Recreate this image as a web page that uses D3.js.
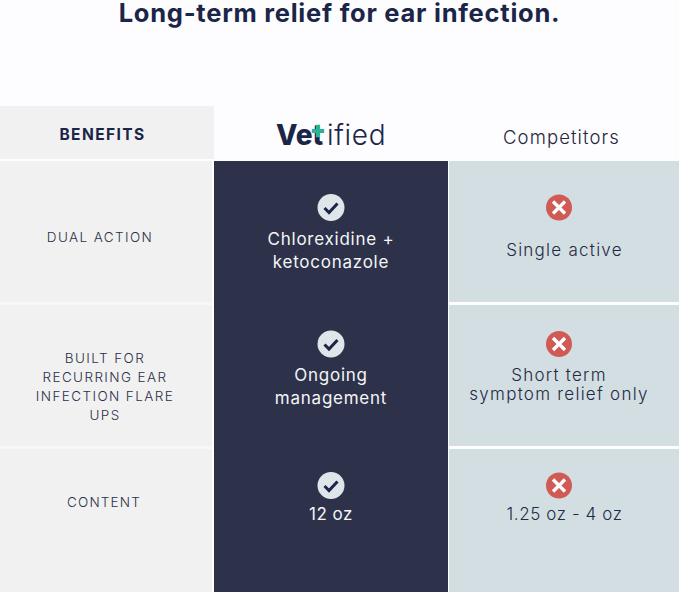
<!DOCTYPE html>
<html>
<head>
<meta charset="utf-8">
<script src="https://cdn.jsdelivr.net/npm/d3@7"></script>
<style>
  html, body { margin: 0; padding: 0; background: #fdfcfe; overflow: hidden; }
  text { font-family: Inter, "Open Sans", sans-serif; }
</style>
</head>
<body>
<svg id="chart"></svg>
<script>
var title = "Long-term relief for ear infection.";
var columns = ["BENEFITS", "Vetified", "Competitors"];
var rows = ["dual", "recurring", "content"];
var benefits = [["DUAL ACTION"], ["BUILT FOR", "RECURRING EAR", "INFECTION FLARE", "UPS"], ["CONTENT"]];
var vetified = [["Chlorexidine +", "ketoconazole"], ["Ongoing", "management"], ["12 oz"]];
var competitors = [["Single active"], ["Short term", "symptom relief only"], ["1.25 oz - 4 oz"]];

var width = 679;
var height = 592;
var navy = "#2d324a";
var ink = "#1b2548";

var svg = d3.select("#chart").attr("width", width).attr("height", height).style("display", "block");

var y = d3.scaleBand().domain(rows).range([161, 590]).paddingInner(0.021).paddingOuter(0);
var colX = { left: 0, mid: 214, right: 448, end: 679 };

var rowHeight = function(d)
{
  return d == "content" ? height - y(d) : y.bandwidth();
};

svg.append("rect").attr("width", width).attr("height", height).attr("fill", "#fdfcfe");

svg.append("text").text(title)
   .attr("x", 339.5).attr("y", 22)
   .attr("text-anchor", "middle")
   .attr("font-size", "25.5px")
   .attr("font-weight", 700)
   .attr("letter-spacing", "0.75px")
   .attr("fill", ink);

// header row
svg.append("rect").attr("x", 0).attr("y", 106).attr("width", colX.mid).attr("height", 53).attr("fill", "#f1f1f1");
svg.append("text").text(columns[0])
   .attr("x", 102.5).attr("y", 140)
   .attr("text-anchor", "middle")
   .attr("font-size", "15.5px").attr("font-weight", 700)
   .attr("letter-spacing", "1.4px")
   .attr("fill", ink);

svg.append("text").text(columns[1].slice(0, 3))
   .attr("x", 276).attr("y", 145)
   .attr("font-size", "28px").attr("font-weight", 800)
   .attr("fill", ink);
svg.append("text").text(columns[1].slice(3))
   .attr("x", 327).attr("y", 145)
   .attr("font-size", "28px").attr("font-weight", 300)
   .attr("letter-spacing", "0.7px")
   .attr("fill", ink);
svg.append("path")
   .attr("d", d3.symbol(d3.symbolCross, 85)())
   .attr("transform", "translate(318,131)")
   .attr("fill", "#2bb39a");

svg.append("text").text(columns[2])
   .attr("x", 561.5).attr("y", 144)
   .attr("text-anchor", "middle")
   .attr("font-size", "18.5px").attr("font-weight", 300)
   .attr("letter-spacing", "1.1px")
   .attr("fill", "#23263a");

// column backgrounds and cells
svg.selectAll(".cell-left").data(rows).enter().append("rect")
   .attr("x", 0).attr("y", function(d) { return y(d); })
   .attr("width", colX.mid - 2).attr("height", rowHeight)
   .attr("fill", "#f1f1f1");

// the gaps in the left column are only faintly lighter than the cells
svg.append("rect").attr("x", 0).attr("y", y("recurring") - 3)
   .attr("width", colX.mid - 2).attr("height", 3).attr("fill", "#f7f7f7");
svg.append("rect").attr("x", 0).attr("y", y("content") - 3)
   .attr("width", colX.mid - 2).attr("height", 3).attr("fill", "#f7f7f7");

svg.selectAll(".cell-right").data(rows).enter().append("rect")
   .attr("x", colX.right + 1).attr("y", function(d) { return y(d); })
   .attr("width", colX.end - colX.right - 1).attr("height", rowHeight)
   .attr("fill", "#d3dee3");

svg.append("rect").attr("x", colX.mid).attr("y", 161)
   .attr("width", colX.right - colX.mid).attr("height", height - 161)
   .attr("fill", navy);

// text blocks: first baseline, line step and tracking per row
var leftLayout = [{ x: 100, y: 242, step: 19, track: "1.4px" }, { x: 105, y: 363, step: 19, track: "1.4px" }, { x: 104, y: 507, step: 19, track: "1.2px" }];
var midLayout = [{ x: 331, y: 245, step: 23, track: "0.75px" }, { x: 331, y: 381, step: 23, track: "0.75px" }, { x: 331, y: 520, step: 23, track: "0.5px" }];
var rightLayout = [{ x: 564.5, y: 256, step: 19, track: "1.25px" }, { x: 559, y: 381, step: 19, track: "1.25px" }, { x: 564.5, y: 520, step: 19, track: "0.6px" }];

var drawLines = function(lines, layout, size, weight, color)
{
  lines.forEach(function(block, i)
  {
    svg.append("g").selectAll("text")
       .data(block)
       .enter()
       .append("text")
       .text(function(d) { return d; })
       .attr("x", layout[i].x)
       .attr("y", function(d, j) { return layout[i].y + j * layout[i].step; })
       .attr("text-anchor", "middle")
       .attr("font-size", size)
       .attr("font-weight", weight)
       .attr("letter-spacing", layout[i].track)
       .attr("fill", color);
  });
};

drawLines(benefits, leftLayout, "13.5px", 300, "#2b3048");
drawLines(vetified, midLayout, "17px", 400, "#f4f5f7");
drawLines(competitors, rightLayout, "17px", 300, "#1f2a44");

// status icons
var iconY = [207.5, 344, 485.5];

var icons = svg.selectAll(".icon").data(iconY).enter().append("g");

var checks = icons.append("g").attr("transform", function(d) { return "translate(331," + d + ")"; });
checks.append("circle").attr("r", 13.5).attr("fill", "#dfe6ea");
checks.append("path").attr("d", "M-6.5,0.5L-2,5L6.5,-4")
   .attr("fill", "none").attr("stroke", ink).attr("stroke-width", 3);

var crosses = icons.append("g").attr("transform", function(d) { return "translate(559," + d + ")"; });
crosses.append("circle").attr("r", 13).attr("fill", "#cf5b54");
crosses.append("path").attr("d", "M-6,-6L6,6M6,-6L-6,6")
   .attr("fill", "none").attr("stroke", "#fff").attr("stroke-width", 3.4);
</script>
</body>
</html>
